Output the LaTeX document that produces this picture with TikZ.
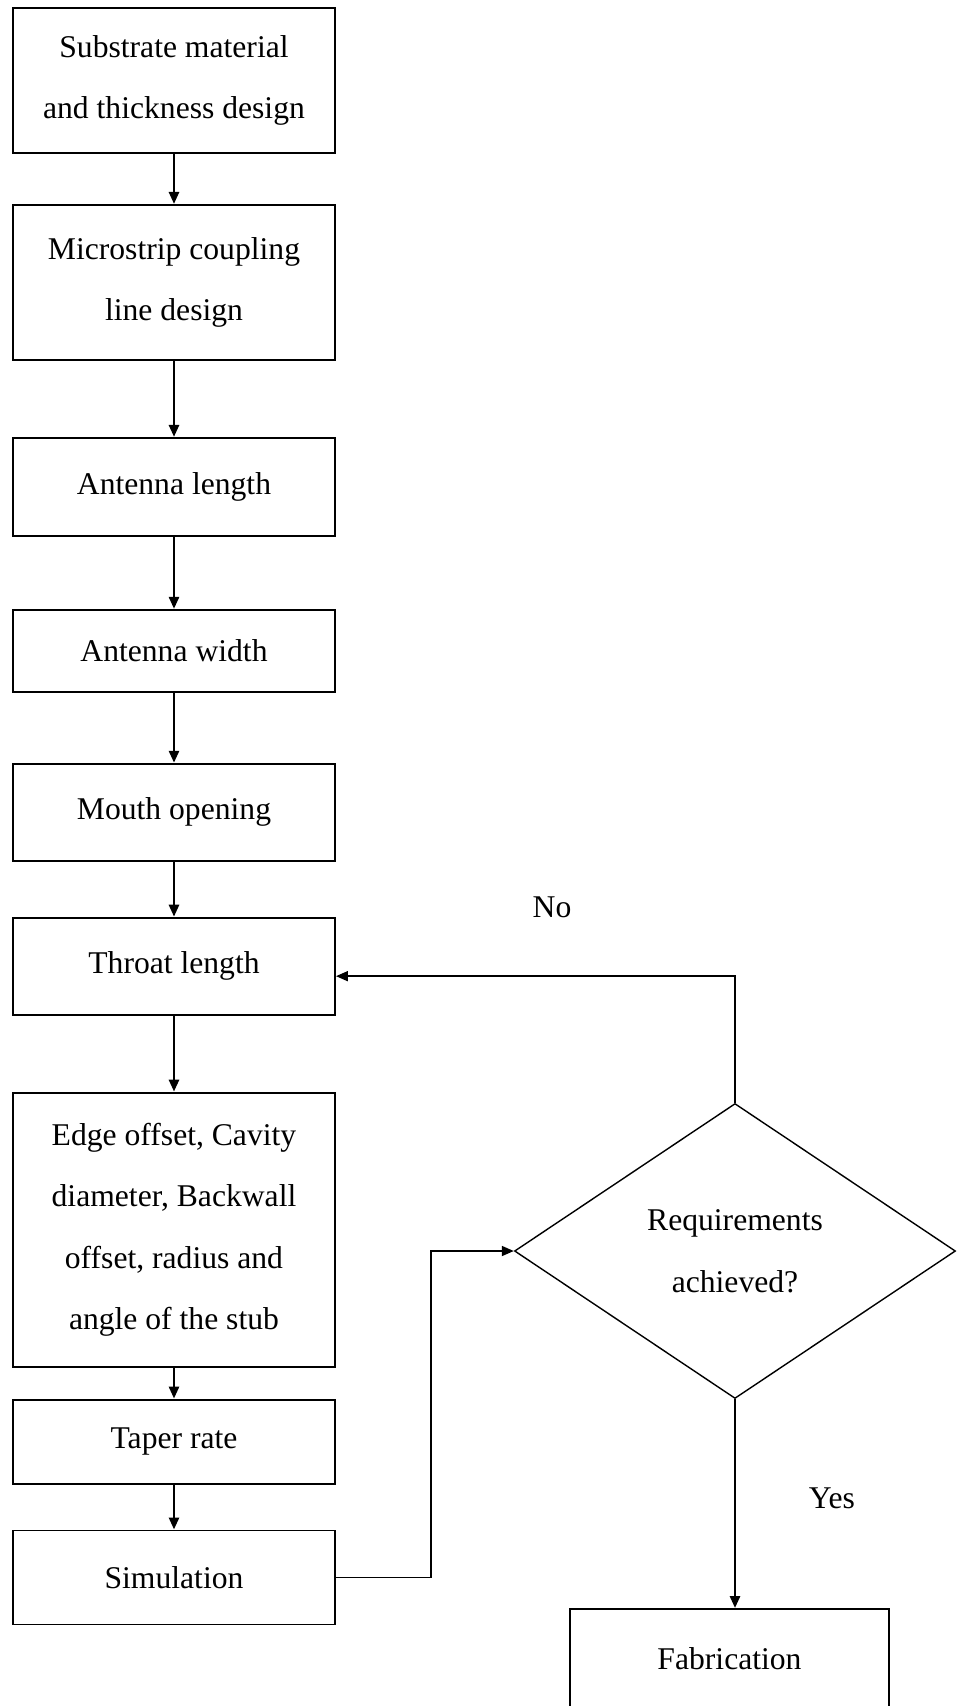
\documentclass[tikz,border=0pt]{standalone}
\usepackage{fontspec}
\setmainfont{Liberation Serif}
\usetikzlibrary{arrows.meta, positioning, shapes.geometric}

\begin{document}
\begin{tikzpicture}[
  node distance=1cm,
  stepbox/.style={rectangle, draw, line width=1.1pt, minimum width=6.44cm, align=center,
                  inner sep=2pt, font=\fontsize{18}{35}\selectfont},
  decision/.style={diamond, draw, line width=0.8pt, minimum width=8.82cm, minimum height=5.9cm,
                   inner sep=0pt, align=center, font=\fontsize{18}{35}\selectfont},
  arrow/.style={-{Triangle[length=0.24cm, width=0.2cm]}, line width=1.5pt},
  tag/.style={font=\fontsize{18}{20}\selectfont}
]
\useasboundingbox (0,0) rectangle (19.16,-34.12);

% design steps
\node[stepbox, minimum height=2.9cm] (sub) at (3.48,-1.61) {Substrate material\\and thickness design};
\node[stepbox, minimum height=3.1cm, below=1.0cm of sub] (mcl) {Microstrip coupling\\line design};
\node[stepbox, minimum height=1.96cm, below=1.52cm of mcl] (alen) {Antenna length};
\node[stepbox, minimum height=1.64cm, below=1.44cm of alen] (awid) {Antenna width};
\node[stepbox, minimum height=1.94cm, below=1.40cm of awid] (mouth) {Mouth opening};
\node[stepbox, minimum height=1.94cm, below=1.10cm of mouth] (thr) {Throat length};
\node[stepbox, minimum height=5.48cm, below=1.52cm of thr] (edge)
  {Edge offset, Cavity\\diameter, Backwall\\offset, radius and\\angle of the stub};
\node[stepbox, minimum height=1.68cm, below=0.62cm of edge] (taper) {Taper rate};
\node[stepbox, minimum height=1.88cm, below=0.90cm of taper] (sim) {Simulation};

% check and output
\node[decision] (dec) at (14.7,-25.02) {Requirements\\achieved?};
\node[stepbox, minimum width=6.38cm, minimum height=2.0cm] (fab) at (14.59,-33.18) {Fabrication};

\node[tag] (no) at (11.04,-18.14) {No};
\node[tag] (yes) at (16.64,-29.96) {Yes};

\draw[arrow] (sub) -- (mcl);
\draw[arrow] (mcl) -- (alen);
\draw[arrow] (alen) -- (awid);
\draw[arrow] (awid) -- (mouth);
\draw[arrow] (mouth) -- (thr);
\draw[arrow] (thr) -- (edge);
\draw[arrow] (edge) -- (taper);
\draw[arrow] (taper) -- (sim);
\draw[arrow, line width=1pt] (sim.east) -- ++(1.9,0) |- (dec.west);
\draw[arrow, line width=1pt] (dec.north) |- ([yshift=-0.2cm]thr.east);
\draw[arrow] (dec.south) -- (dec.south |- fab.north);
\end{tikzpicture}
\end{document}
